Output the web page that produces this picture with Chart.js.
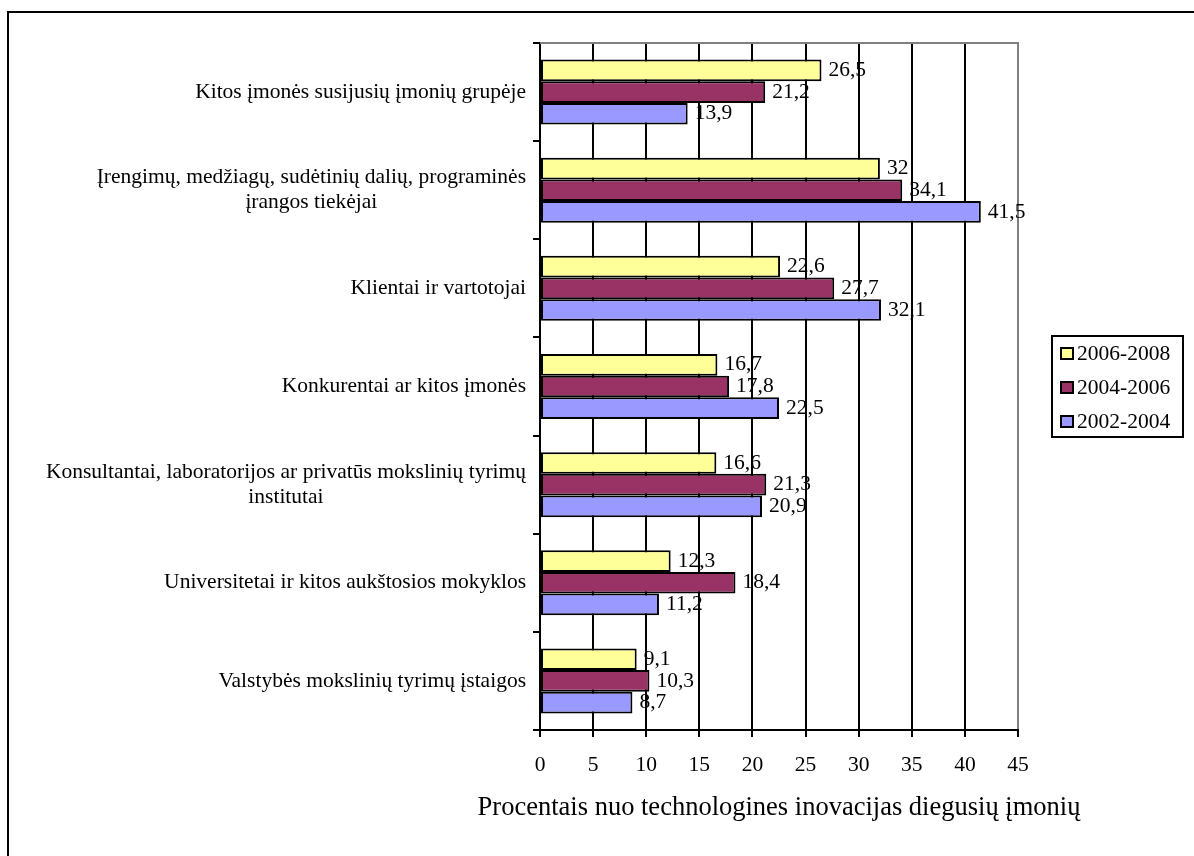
<!DOCTYPE html>
<html lang="lt">
<head>
<meta charset="utf-8">
<title>Inovacijų informacijos šaltiniai</title>
<script src="https://cdn.jsdelivr.net/npm/chart.js@4.4.1/dist/chart.umd.min.js"></script>
<style>
  html, body { margin: 0; padding: 0; background: #ffffff; }
  #wrap { position: relative; width: 1194px; height: 856px; }
</style>
</head>
<body>
<div id="wrap"><canvas id="chart" width="1194" height="856"></canvas></div>
<script>
// Information sources for technological innovation (% of innovating enterprises)
const categories = [
  ['Kitos įmonės susijusių įmonių grupėje'],
  ['Įrengimų, medžiagų, sudėtinių dalių, programinės', 'įrangos tiekėjai'],
  ['Klientai ir vartotojai'],
  ['Konkurentai ar kitos įmonės'],
  ['Konsultantai, laboratorijos ar privatūs mokslinių tyrimų', 'institutai'],
  ['Universitetai ir kitos aukštosios mokyklos'],
  ['Valstybės mokslinių tyrimų įstaigos']
];
const seriesNames = ['2006-2008', '2004-2006', '2002-2004'];
const values2006_2008 = [26.5, 32, 22.6, 16.7, 16.6, 12.3, 9.1];
const values2004_2006 = [21.2, 34.1, 27.7, 17.8, 21.3, 18.4, 10.3];
const values2002_2004 = [13.9, 41.5, 32.1, 22.5, 20.9, 11.2, 8.7];
const xTicks = [0, 5, 10, 15, 20, 25, 30, 35, 40, 45];
const axisTitle = 'Procentais nuo technologines inovacijas diegusių įmonių';

const FONT = "'Liberation Serif', 'Times New Roman', serif";
const TEXT_SIZE = 21.5;
const TITLE_SIZE = 26.5;
const colors = ['#FFFF99', '#993366', '#9999FF'];

const fmt = v => String(v).replace('.', ',');

// Outer frame, top edge of the plot area, category labels and axis title
const decorPlugin = {
  id: 'decor',
  beforeDraw(chart) {
    const ctx = chart.ctx;
    ctx.save();
    ctx.fillStyle = '#ffffff';
    ctx.fillRect(0, 0, chart.width, chart.height);
    ctx.strokeStyle = '#000';
    ctx.lineWidth = 2;
    ctx.strokeRect(8, 12, chart.width + 20, chart.height + 20);
    ctx.restore();
  },
  afterDraw(chart) {
    const ctx = chart.ctx;
    const a = chart.chartArea;
    ctx.save();
    ctx.strokeStyle = '#808080';
    ctx.lineWidth = 2;
    ctx.beginPath();
    ctx.moveTo(a.left, a.top);
    ctx.lineTo(a.right + 1, a.top);
    ctx.stroke();

    // category labels: each block right-aligned, its lines centred
    const y = chart.scales.y;
    ctx.font = TEXT_SIZE + 'px ' + FONT;
    ctx.fillStyle = '#000';
    ctx.textAlign = 'center';
    ctx.textBaseline = 'middle';
    const lh = 25;
    const rightEdge = a.left - 14;
    categories.forEach((lines, i) => {
      const cy = y.getPixelForValue(i);
      const w = Math.max(...lines.map(l => ctx.measureText(l).width));
      const cx = rightEdge - w / 2;
      const y0 = cy - (lines.length - 1) * lh / 2;
      lines.forEach((l, k) => ctx.fillText(l, cx, y0 + k * lh));
    });

    // x-axis title, centred under the plot area
    ctx.font = TITLE_SIZE + 'px ' + FONT;
    ctx.textAlign = 'center';
    ctx.textBaseline = 'alphabetic';
    ctx.fillText(axisTitle, (a.left + a.right) / 2, 815);
    ctx.restore();
  }
};

// Value labels at the end of each bar
const valueLabels = {
  id: 'valueLabels',
  afterDatasetsDraw(chart) {
    const ctx = chart.ctx;
    ctx.save();
    ctx.font = TEXT_SIZE + 'px ' + FONT;
    ctx.fillStyle = '#000';
    ctx.textAlign = 'left';
    ctx.textBaseline = 'middle';
    chart.data.datasets.forEach((ds, di) => {
      const meta = chart.getDatasetMeta(di);
      meta.data.forEach((bar, i) => {
        ctx.fillText(fmt(ds.data[i]), bar.x + 7, bar.y);
      });
    });
    ctx.restore();
  }
};

// Boxed legend on the right
const boxLegend = {
  id: 'boxLegend',
  afterDraw(chart) {
    const ctx = chart.ctx;
    const bx = 1052, by = 336, bw = 131, bh = 101;
    ctx.save();
    ctx.strokeStyle = '#000';
    ctx.lineWidth = 2;
    ctx.strokeRect(bx, by, bw, bh);
    ctx.font = TEXT_SIZE + 'px ' + FONT;
    ctx.textAlign = 'left';
    ctx.textBaseline = 'middle';
    chart.data.datasets.forEach((ds, i) => {
      const cy = by + 17.5 + i * 34;
      ctx.fillStyle = ds.backgroundColor;
      ctx.fillRect(1061, cy - 5.5, 12, 11);
      ctx.lineWidth = 2;
      ctx.strokeRect(1061, cy - 5.5, 12, 11);
      ctx.fillStyle = '#000';
      ctx.fillText(ds.label, 1077, cy + 1);
    });
    ctx.restore();
  }
};

const datasets = [values2006_2008, values2004_2006, values2002_2004].map((vals, i) => ({
  label: seriesNames[i],
  data: vals,
  backgroundColor: colors[i],
  borderColor: '#000',
  borderWidth: 2,
  borderSkipped: false,
  categoryPercentage: 0.662,
  barPercentage: 1.0
}));

new Chart(document.getElementById('chart'), {
  type: 'bar',
  data: { labels: categories.map(c => c.join(' ')), datasets },
  options: {
    indexAxis: 'y',
    responsive: false,
    animation: false,
    devicePixelRatio: 1,
    layout: { padding: { left: 0, right: 176, top: 43, bottom: 0 } },
    plugins: { legend: { display: false }, tooltip: { enabled: false } },
    scales: {
      x: {
        type: 'linear',
        min: 0,
        max: 45,
        afterBuildTicks(scale) { scale.ticks = xTicks.map(v => ({ value: v })); },
        afterFit(scale) { scale.height = 126; },
        border: { color: '#000', width: 2 },
        grid: {
          color: c => (c.tick && c.tick.value === 45) ? '#808080' : '#000',
          tickColor: '#000',
          lineWidth: 2,
          tickLength: 7
        },
        ticks: {
          font: { family: FONT, size: TEXT_SIZE },
          color: '#000',
          padding: 15,
          callback: v => String(v)
        },
        title: { display: false }
      },
      y: {
        type: 'category',
        afterFit(scale) { scale.width = 540; },
        border: { color: '#000', width: 2 },
        grid: {
          offset: true,
          drawOnChartArea: false,
          drawTicks: true,
          tickLength: 7,
          color: '#000',
          lineWidth: 2
        },
        ticks: { display: false }
      }
    }
  },
  plugins: [decorPlugin, valueLabels, boxLegend]
});
</script>
</body>
</html>
